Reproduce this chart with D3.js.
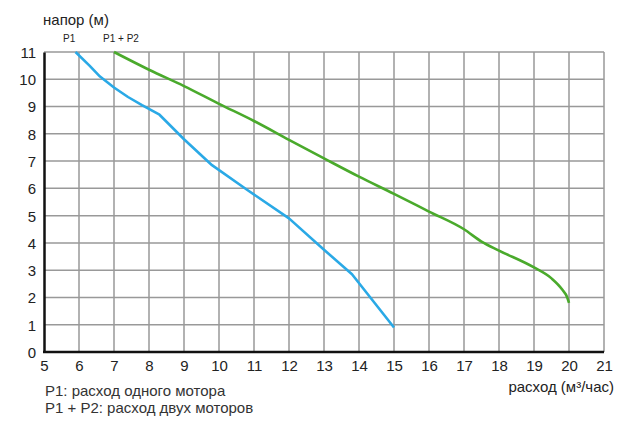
<!DOCTYPE html>
<html><head><meta charset="utf-8">
<script src="https://cdn.jsdelivr.net/npm/d3@7"></script>
<style>body{margin:0;background:#fff}svg{display:block}text{font-family:"Liberation Sans",Arial,sans-serif}</style>
</head><body><svg id="c" width="640" height="428"></svg>
<script>
const xTicks = [5,6,7,8,9,10,11,12,13,14,15,16,17,18,19,20,21];
const yTicks = [0,1,2,3,4,5,6,7,8,9,10,11];
const p1Flow = [5.9,6.3,6.6,7.0,7.4,7.8,8.3,9.0,9.8,10.8,12.0,13.0,13.8,15.0];
const p1Head = [11,10.5,10.1,9.7,9.35,9.05,8.7,7.8,6.85,5.95,4.9,3.75,2.85,0.9];
const p12Flow = [7,8,9,10,11,12,13,14,15,16,17,17.5,18,19,19.5,19.8,19.95,20];
const p12Head = [11,10.35,9.75,9.1,8.47,7.78,7.1,6.43,5.8,5.15,4.5,4.05,3.72,3.1,2.7,2.3,2.0,1.8];
const yTitle = "напор (м)";
const xTitle = "расход (м³/час)";
const seriesLabels = ["P1","P1 + P2"];
const legendLines = ["P1: расход одного мотора","P1 + P2: расход двух моторов"];

const svg = d3.select("#c");
const x = d3.scaleLinear().domain([5,21]).range([44,604]);
const y = d3.scaleLinear().domain([0,11]).range([352,52]);

// grid
const g = svg.append("g");
g.selectAll(".vg").data(xTicks.slice(1)).join("line")
  .attr("x1",d=>x(d)).attr("x2",d=>x(d)).attr("y1",y(0)).attr("y2",y(11))
  .attr("stroke","#999").attr("stroke-width",1.5);
g.selectAll(".hg").data(yTicks.slice(1)).join("line")
  .attr("x1",x(5)).attr("x2",x(21)).attr("y1",d=>y(d)).attr("y2",d=>y(d))
  .attr("stroke","#999").attr("stroke-width",1.5);

// axes
const xAxis = svg.append("g").attr("transform",`translate(0,${y(0)})`)
  .call(d3.axisBottom(x).tickValues(xTicks).tickSize(0).tickPadding(8).tickFormat(d3.format("d")));
const yAxis = svg.append("g").attr("transform",`translate(${x(5)},0)`)
  .call(d3.axisLeft(y).tickValues(yTicks).tickSize(0).tickPadding(8).tickFormat(d3.format("d")));
[xAxis,yAxis].forEach(a=>{
  a.select(".domain").attr("stroke","#111").attr("stroke-width",2.5);
  a.selectAll("text").attr("font-size",15).attr("fill","#222").attr("font-family","Liberation Sans, Arial, sans-serif");
});
xAxis.select(".domain").attr("d",`M${x(5)-1},0H${x(21)}`);
yAxis.selectAll("text").attr("dy","0.36em");

// lines
const lineLin = d3.line().x(d=>x(d[0])).y(d=>y(d[1])).curve(d3.curveLinear);
const lineSmooth = d3.line().x(d=>x(d[0])).y(d=>y(d[1])).curve(d3.curveMonotoneX);
svg.append("path").datum(d3.zip(p1Flow,p1Head)).attr("d",lineLin)
  .attr("fill","none").attr("stroke","#2aa9e6").attr("stroke-width",2.6).attr("stroke-linejoin","round");
svg.append("path").datum(d3.zip(p12Flow,p12Head)).attr("d",lineSmooth)
  .attr("fill","none").attr("stroke","#4aaa2c").attr("stroke-width",2.6).attr("stroke-linejoin","round");

// texts
svg.append("text").attr("x",43).attr("y",25).attr("font-size",15).attr("fill","#222").text(yTitle);
svg.append("text").attr("x",63).attr("y",42).attr("font-size",10).attr("fill","#222").text(seriesLabels[0]);
svg.append("text").attr("x",103).attr("y",42).attr("font-size",10).attr("fill","#222").text(seriesLabels[1]);
svg.append("text").attr("x",614).attr("y",392).attr("text-anchor","end").attr("font-size",15).attr("fill","#222")
  .text(xTitle);
svg.selectAll(".leg").data(legendLines).join("text")
  .attr("x",45).attr("y",(d,i)=>396+i*17).attr("font-size",15).attr("fill","#333").text(d=>d);
</script></body></html>
